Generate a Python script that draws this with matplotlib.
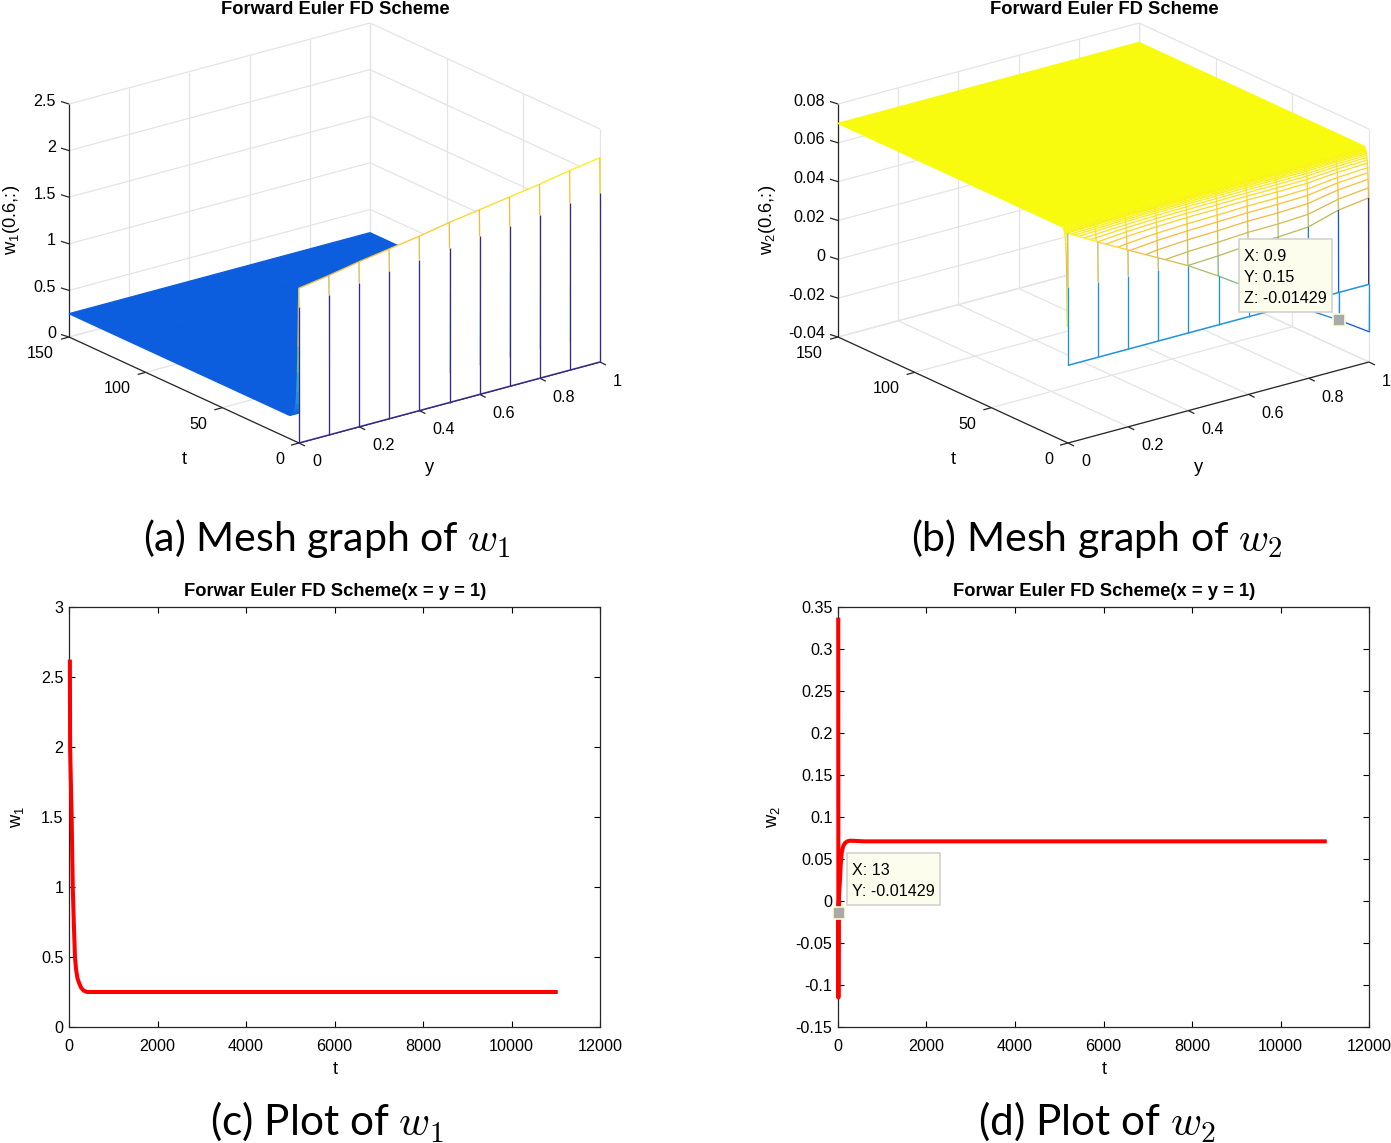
import matplotlib
matplotlib.use("Agg")
import matplotlib.pyplot as plt
import numpy as np
from matplotlib.collections import PolyCollection, LineCollection
from matplotlib.colors import LinearSegmentedColormap
from matplotlib.patches import Rectangle

plt.rcParams['font.family'] = ['Liberation Sans', 'DejaVu Sans']
plt.rcParams['mathtext.fontset'] = 'custom'
plt.rcParams['mathtext.rm'] = 'Liberation Sans'
plt.rcParams['mathtext.it'] = 'Liberation Sans'
plt.rcParams['mathtext.bf'] = 'Liberation Sans:bold'

# ---------- data ----------
y_nodes = [0, .1, .2, .3, .4, .5, .6, .7, .8, .9, 1]

w1_rows_t = [0, .15, .4, .7, 1, 1.4, 2, 3, 4.5, 6, 150]
w1_first = [0, 0, 0, 0, 0, 0, 0, 0, 0, 0, 0]
w1_top = [1.66, 1.71, 1.77, 1.82, 1.87, 1.93, 1.98, 2.03, 2.08, 2.14, 2.19]
w1_break = [1.46, 1.50, 1.545, 1.58, 1.62, 1.66, 1.70, 1.717, 1.75, 1.79, 1.81]
w1_plateau = .25
w1_remaining = [.8, .55, .35, .2, .1, .05, .02, 0, 0]

w2_rows_t = [0, .15, .3, .45, .6, .75, .9, 1.05, 1.2, 1.35, 1.5, 1.65, 1.8, 1.95,
             2.1, 2.25, 2.4, 2.55, 2.7, 2.85, 3, 3.5, 150]
w2_first = [0, 0, 0, 0, 0, 0, 0, 0, 0, 0, 0]
w2_second = [.068, .0593, .051, .0428, .0346, .0251, .015, .005, -.005, -.01429, -.0244]
w2_break = [.0402, .0387, .0377, .0366, .0346, .0251, .015, .005, -.005, -.01429, -.0244]
w2_third = [.02, .025, .03, .033, .0346, .0354, .0366, .0368, .0378, .0423, .0444]
w2_plateau = .07
w2_remaining = [1, .8, .63, .5, .4, .31, .25, .2, .16, .125, .1, .08, .06, .05, .04,
                .03, .02, .012, .006, 0, 0]

c_t = [20, 25, 42, 60, 72, 85, 110, 135, 160, 190, 233, 275, 330, 410, 500, 11000]
c_w1 = [2.61, 2.0, 1.75, 1.5, 1.25, 1.0, .73, .5, .41, .35, .31, .28, .26, .25, .25, .25]
d_t = [5, 9, 13, 25, 45, 60, 83, 115, 158, 210, 271, 400, 600, 11000]
d_w2 = [.335, -.115, -.01429, .008, .025, .042, .057, .065, .069, .071, .0718, .0715, .071, .071]

y_ticks = [0, .2, .4, .6, .8, 1]
y_ticklabels = ['0', '0.2', '0.4', '0.6', '0.8', '1']
t_ticks = [0, 50, 100, 150]
t_ticklabels = ['0', '50', '100', '150']
w1_zticks = [0, .5, 1, 1.5, 2, 2.5]
w1_zticklabels = ['0', '0.5', '1', '1.5', '2', '2.5']
w2_zticks = [-.04, -.02, 0, .02, .04, .06, .08]
w2_zticklabels = ['-0.04', '-0.02', '0', '0.02', '0.04', '0.06', '0.08']
c_xticks = [0, 2000, 4000, 6000, 8000, 10000, 12000]
c_yticks = [0, .5, 1, 1.5, 2, 2.5, 3]
c_ylabels = ['0', '0.5', '1', '1.5', '2', '2.5', '3']
d_yticks = [-.15, -.1, -.05, 0, .05, .1, .15, .2, .25, .3, .35]
d_ylabels = ['-0.15', '-0.1', '-0.05', '0', '0.05', '0.1', '0.15', '0.2', '0.25', '0.3', '0.35']

# ---------- styles ----------
W, H = 1391, 1143
FS = 11.6
LFS = 13.2
TFS = 13.2
GRID = '#e4e4e4'
AXC = '#262626'
parula = LinearSegmentedColormap.from_list('parula', [
    (0, (.2081, .1663, .5292)), (.114, (.05, .37, .87)), (.2, (.09, .52, .88)),
    (.3, (.14, .62, .87)), (.4, (.1986, .7214, .6310)), (.6, (.6473, .7456, .4188)),
    (.8, (.9856, .7372, .2537)), (1, (.9763, .9831, .0538))])

fig = plt.figure(figsize=(W / 100, H / 100), dpi=100)
ov = fig.add_axes([0, 0, 1, 1], zorder=5)
ov.set_xlim(0, W)
ov.set_ylim(H, 0)
ov.axis('off')
ov.patch.set_alpha(0)


def panel3d(x0, zlim, zticks, zlabels, rows_t, rows_z, brk, n_white, title):
    A = np.array([x0, 443.])
    B = np.array([x0 + 301, 362.])
    C = np.array([x0 - 230, 337.])
    zmin, zmax = zlim
    zs = 233 / (zmax - zmin)
    clim = (min(min(r) for r in rows_z), max(max(r) for r in rows_z))

    def P(y, t, z):
        p = A + y * (B - A) + t / 150 * (C - A)
        return (p[0], p[1] - (z - zmin) * zs)

    def col(z):
        return parula((z - clim[0]) / (clim[1] - clim[0]))

    # grid
    seg = []
    for z in zticks:
        seg += [[P(0, 150, z), P(1, 150, z)], [P(1, 150, z), P(1, 0, z)]]
    for y in y_ticks:
        seg += [[P(y, 150, zmin), P(y, 150, zmax)], [P(y, 0, zmin), P(y, 150, zmin)]]
    for t in t_ticks:
        seg += [[P(1, t, zmin), P(1, t, zmax)], [P(0, t, zmin), P(1, t, zmin)]]
    ov.add_collection(LineCollection(seg, colors=GRID, linewidths=.9, zorder=1))

    # axes and ticks
    ax_seg = [[P(0, 150, zmin), P(0, 150, zmax)], [P(0, 150, zmin), P(0, 0, zmin)],
              [P(0, 0, zmin), P(1, 0, zmin)]]
    for z, lab in zip(zticks, zlabels):
        p = P(0, 150, z)
        ax_seg.append([p, (p[0] - 8, p[1] - 2.5)])
        ov.text(p[0] - 13, p[1] - 3, lab, ha='right', va='center', fontsize=FS, zorder=60)
    for t, lab in zip(t_ticks, t_ticklabels):
        p = P(0, t, zmin)
        ax_seg.append([p, (p[0] - 8, p[1] + 2.2)])
        ov.text(p[0] - 15, p[1] + 16.5, lab, ha='right', va='center', fontsize=FS, zorder=60)
    for y, lab in zip(y_ticks, y_ticklabels):
        p = P(y, 0, zmin)
        ax_seg.append([p, (p[0] + 6, p[1] + 3)])
        ov.text(p[0] + 13, p[1] + 19, lab, ha='left', va='center', fontsize=FS, zorder=60)
    ov.add_collection(LineCollection(ax_seg, colors=AXC, linewidths=.9, zorder=2))

    # mesh, painted from the far row to the near row
    n = len(rows_t)
    for i in range(n - 2, -1, -1):
        zo = 10 + (n - i)
        polys, faces, lines, lcols = [], [], [], []
        for j in range(len(y_nodes) - 1):
            y0, y1 = y_nodes[j], y_nodes[j + 1]
            polys.append([P(y0, rows_t[i], rows_z[i][j]), P(y1, rows_t[i], rows_z[i][j + 1]),
                          P(y1, rows_t[i + 1], rows_z[i + 1][j + 1]), P(y0, rows_t[i + 1], rows_z[i + 1][j])])
            faces.append('white' if i < n_white else col(rows_z[i][j]))
            lines.append([P(y0, rows_t[i + 1], rows_z[i + 1][j]), P(y1, rows_t[i + 1], rows_z[i + 1][j + 1])])
            lcols.append(col(rows_z[i + 1][j]))
        for j, y in enumerate(y_nodes):
            if i == 0:
                m = brk[j]
                lines.append([P(y, rows_t[0], rows_z[0][j]), P(y, rows_t[0], m)])
                lcols.append(col(rows_z[0][j]))
                lines.append([P(y, rows_t[0], m), P(y, rows_t[1], rows_z[1][j])])
                lcols.append(col(m))
            else:
                lines.append([P(y, rows_t[i], rows_z[i][j]), P(y, rows_t[i + 1], rows_z[i + 1][j])])
                lcols.append(col(rows_z[i][j]))
        ov.add_collection(PolyCollection(polys, facecolors=faces, edgecolors='none', zorder=zo))
        ov.add_collection(LineCollection(lines, colors=lcols, linewidths=.95, zorder=zo + .5))
    front = [[P(y_nodes[j], 0, rows_z[0][j]), P(y_nodes[j + 1], 0, rows_z[0][j + 1])]
             for j in range(len(y_nodes) - 1)]
    ov.add_collection(LineCollection(front, colors=[col(rows_z[0][j]) for j in range(len(front))],
                                     linewidths=1.1, zorder=50))

    ov.text(x0 + 36, 9, title, ha='center', va='center', fontsize=TFS, fontweight='bold', zorder=60)
    ov.text(x0 - 115, 460, 't', ha='center', va='center', fontsize=LFS, zorder=60)
    ov.text(x0 + 131, 467, 'y', ha='center', va='center', fontsize=LFS, zorder=60)
    return P


w1_rows = [w1_first, w1_top] + [[w1_plateau + (v - w1_plateau) * f for v in w1_top] for f in w1_remaining]
w2_rows = [w2_first, w2_second] + [[w2_plateau - (w2_plateau - v) * f for v in w2_third] for f in w2_remaining]

panel3d(299, (0, 2.5), w1_zticks, w1_zticklabels, w1_rows_t, w1_rows, w1_break, 1, 'Forward Euler FD Scheme')
Pb = panel3d(1068, (-.04, .08), w2_zticks, w2_zticklabels, w2_rows_t, w2_rows, w2_break,
             len(w2_rows_t) - 2, 'Forward Euler FD Scheme')

ov.text(11, 220, r'$\mathrm{w_1}$(0.6,:)', rotation=90, ha='center', va='center', fontsize=LFS, zorder=60)
ov.text(767, 220, r'$\mathrm{w_2}$(0.6,:)', rotation=90, ha='center', va='center', fontsize=LFS, zorder=60)


def tip(x, y, w, h, lines, mx, my, msize):
    ov.add_patch(Rectangle((x, y), w, h, facecolor='#fdfdee', edgecolor='#d2d2d2', lw=1.2, zorder=70))
    for k, s in enumerate(lines):
        ov.text(x + 5, y + 17.5 + 21 * k, s, ha='left', va='center', fontsize=FS, zorder=71)
    ov.plot([mx], [my], 's', ms=msize, mfc='#a9a9a9', mec='#fbfbd8', mew=1.2, zorder=72)


xp, yp = Pb(.9, .15, -.01429)
tip(1239, 239, 93, 73, ['X: 0.9', 'Y: 0.15', 'Z: -0.01429'], xp, yp, 8.5)


# ---------- 2-D panels ----------
def panel2d(x0, tx, ty, xticks, yticks, ylabels, ylim, yname, ylabel_x):
    ax = fig.add_axes([x0 / W, 1 - 1027 / H, 531 / W, 420 / H], zorder=1)
    ax.plot(tx, ty, color='#ff0000', lw=2.9, solid_joinstyle='round', clip_on=False, zorder=3)
    ax.set_xlim(0, 12000)
    ax.set_ylim(*ylim)
    ax.set_xticks(xticks)
    ax.set_xticklabels([str(v) for v in xticks])
    ax.set_yticks(yticks)
    ax.set_yticklabels(ylabels)
    ax.tick_params(direction='in', length=4, width=.8, top=True, right=True,
                   labelsize=FS, colors='black', pad=4)
    ax.tick_params(axis='x', pad=8.7)
    for s in ax.spines.values():
        s.set_linewidth(.9)
        s.set_color(AXC)
    ov.text(x0 + 266, 1070, 't', ha='center', va='center', fontsize=LFS)
    ov.text(ylabel_x, 817, yname, rotation=90, ha='center', va='center', fontsize=LFS)
    ov.text(x0 + 266, 592, 'Forwar Euler FD Scheme(x = y = 1)', ha='center', va='center',
            fontsize=TFS, fontweight='bold')
    return ax


panel2d(69, c_t, c_w1, c_xticks, c_yticks, c_ylabels, (0, 3), r'$\mathrm{w_1}$', 17)
panel2d(838, d_t, d_w2, c_xticks, d_yticks, d_ylabels, (-.15, .35), r'$\mathrm{w_2}$', 773)

mx = 838 + 13 * 531 / 12000
my = 1027 - (-.01429 + .15) * 840
tip(847, 853, 93, 52, ['X: 13', 'Y: -0.01429'], mx, my, 8.5)

# ---------- captions ----------
for x, y, s, fs in [(327, 538, r'(a) Mesh graph of $w_1$', 29.5), (1097, 538, r'(b) Mesh graph of $w_2$', 29.5),
                    (327, 1122, r'(c) Plot of $w_1$', 30.5), (1097, 1122, r'(d) Plot of $w_2$', 30.5)]:
    ov.text(x, y, s, ha='center', va='center', fontsize=fs, family='Lato', math_fontfamily='cm')

fig.savefig('out.png', dpi=100)
